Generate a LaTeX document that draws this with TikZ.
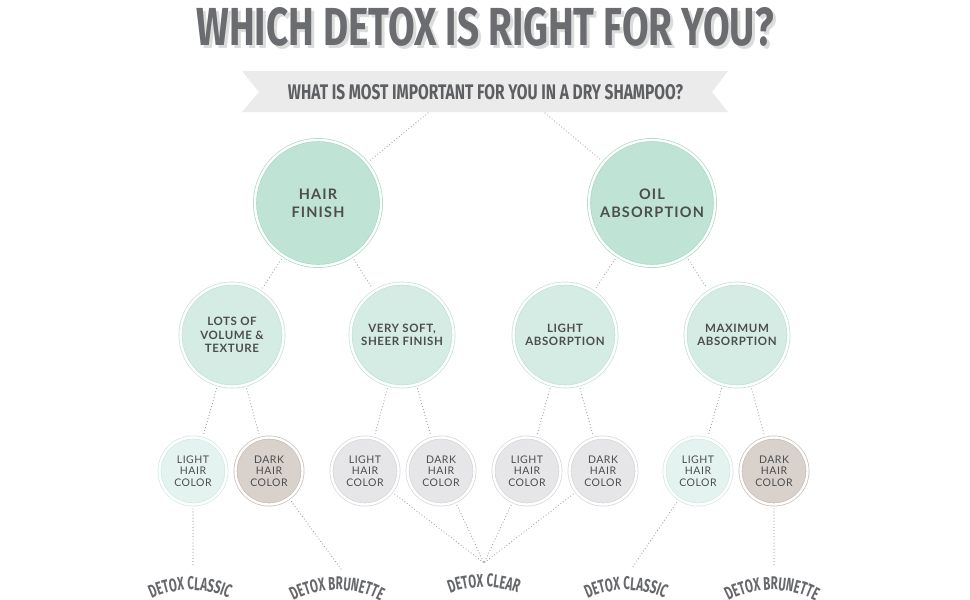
\documentclass[tikz,border=0pt]{standalone}
\usepackage{fontspec}
\usepackage{graphicx}
\setmainfont{Lato}
\newfontfamily\condfont{Fira Sans}
\newfontfamily\labfont[FakeStretch=0.62]{Fira Sans}
\newfontfamily\circfont[LetterSpace=8]{Lato}
\newfontfamily\circfontb[LetterSpace=5]{Lato}
\newfontfamily\circfontc[LetterSpace=5]{Lato}
\usetikzlibrary{decorations.text}
\definecolor{titlecol}{HTML}{6B6C6F}
\definecolor{shadowcol}{HTML}{DCDCDC}
\definecolor{bannercol}{HTML}{EBEBEB}
\definecolor{bannertxt}{HTML}{5E5F62}
\definecolor{mintA}{HTML}{BFE3D5}
\definecolor{mintAline}{HTML}{A9D9C7}
\definecolor{mintB}{HTML}{D5ECE5}
\definecolor{mintBline}{HTML}{C0E2D7}
\definecolor{mintC}{HTML}{E4F3EF}
\definecolor{mintCline}{HTML}{D0EAE2}
\definecolor{beige}{HTML}{D9D1CC}
\definecolor{beigeline}{HTML}{C8BDB5}
\definecolor{grayc}{HTML}{E6E6E8}
\definecolor{graycline}{HTML}{D7D7D9}
\definecolor{txtcol}{HTML}{4D4D4F}
\definecolor{dotcol}{HTML}{A2A2A4}
\definecolor{labcol}{HTML}{67686B}
\tikzset{
  ring/.style={circle, inner sep=0pt, align=center, text=txtcol, line width=0.7pt, double=white, double distance=2.4pt},
  lvlone/.style={ring, minimum size=126, fill=mintA, draw=mintAline, font=\circfont\bfseries\fontsize{14.5}{18}\selectfont},
  lvltwo/.style={ring, minimum size=103, fill=mintB, draw=mintBline, font=\circfontb\bfseries\fontsize{11.5}{13.5}\selectfont},
  lvlthree/.style={ring, minimum size=67, font=\circfontc\fontsize{10.5}{11.6}\selectfont},
  lightc/.style={lvlthree, fill=mintC, draw=mintCline},
  darkc/.style={lvlthree, fill=beige, draw=beigeline},
  grayn/.style={lvlthree, fill=grayc, draw=graycline},
  conn/.style={draw=dotcol, line width=1.2pt, line cap=round, dash pattern=on 0pt off 3.1pt, shorten <=4pt, shorten >=4pt},
  arclabel/.style={decorate, decoration={text along path, text align=center, text={|\labfont\bfseries\fontsize{18.5}{18.5}\selectfont\color{labcol}|#1}}}
}
\begin{document}
\begin{tikzpicture}[x=1pt, y=-1pt]
\useasboundingbox (0,0) rectangle (970,600);
\fill[white] (0,0) rectangle (970,600);

% title
\node[inner sep=0pt, text=shadowcol] (titleshadow) at (488,30) {\resizebox{577pt}{38pt}{\condfont\bfseries WHICH DETOX IS RIGHT FOR YOU?}};
\node[inner sep=0pt, text=titlecol] (title) at (485,27) {\resizebox{577pt}{38pt}{\condfont\bfseries WHICH DETOX IS RIGHT FOR YOU?}};

% banner
\fill[bannercol] (242,71) -- (728,71) -- (712,92) -- (728,112) -- (242,112) -- (259,92) -- cycle;
\node[inner sep=0pt, text=bannertxt] (question) at (485.5,92) {\resizebox{395pt}{15pt}{\condfont\bfseries WHAT IS MOST IMPORTANT FOR YOU IN A DRY SHAMPOO?}};
\coordinate (b1) at (428,113);
\coordinate (b2) at (545,113);

% level 1
\node[lvlone] (hf) at (318,203) {HAIR\\FINISH};
\node[lvlone] (oa) at (652,203) {OIL\\ABSORPTION};

% level 2
\node[lvltwo] (lv) at (232,335) {LOTS OF\\VOLUME \&\\TEXTURE};
\node[lvltwo] (vs) at (402,335) {VERY SOFT,\\SHEER FINISH};
\node[lvltwo] (la) at (565,335) {LIGHT\\ABSORPTION};
\node[lvltwo] (ma) at (737,335) {MAXIMUM\\ABSORPTION};

% level 3
\node[lightc] (s1) at (193,471) {LIGHT\\HAIR\\COLOR};
\node[darkc]  (s2) at (269,471) {DARK\\HAIR\\COLOR};
\node[grayn]  (s3) at (365,471) {LIGHT\\HAIR\\COLOR};
\node[grayn]  (s4) at (441,471) {DARK\\HAIR\\COLOR};
\node[grayn]  (s5) at (527,471) {LIGHT\\HAIR\\COLOR};
\node[grayn]  (s6) at (603,471) {DARK\\HAIR\\COLOR};
\node[lightc] (s7) at (698,471) {LIGHT\\HAIR\\COLOR};
\node[darkc]  (s8) at (774,471) {DARK\\HAIR\\COLOR};

% end points
\coordinate (c1) at (193,566);
\coordinate (c2) at (341,569);
\coordinate (c3) at (484,563);
\coordinate (c4) at (632,568);
\coordinate (c5) at (774,566);

% connectors
\draw[conn, shorten <=0pt] (b1) -- (hf);
\draw[conn, shorten <=0pt] (b2) -- (oa);
\draw[conn] (hf) -- (lv);
\draw[conn] (hf) -- (vs);
\draw[conn] (oa) -- (la);
\draw[conn] (oa) -- (ma);
\draw[conn] (lv) -- (s1);
\draw[conn] (lv) -- (s2);
\draw[conn] (vs) -- (s3);
\draw[conn] (vs) -- (s4);
\draw[conn] (la) -- (s5);
\draw[conn] (la) -- (s6);
\draw[conn] (ma) -- (s7);
\draw[conn] (ma) -- (s8);
\draw[conn, shorten >=0pt] (s1) -- (c1);
\draw[conn, shorten >=0pt] (s2) -- (c2);
\draw[conn, shorten >=0pt] (s3) -- (c3);
\draw[conn, shorten >=0pt] (s4) -- (c3);
\draw[conn, shorten >=0pt] (s5) -- (c3);
\draw[conn, shorten >=0pt] (s6) -- (c3);
\draw[conn, shorten >=0pt] (s7) -- (c4);
\draw[conn, shorten >=0pt] (s8) -- (c5);

% arched labels
\path[arclabel={DETOX CLASSIC}] (190,682) ++(-125:92) arc[start angle=-125, end angle=-55, radius=92];
\path[arclabel={DETOX BRUNETTE}] (337,682) ++(-125:92) arc[start angle=-125, end angle=-55, radius=92];
\path[arclabel={DETOX CLEAR}] (484,682) ++(-125:95) arc[start angle=-125, end angle=-55, radius=95];
\path[arclabel={DETOX CLASSIC}] (626,682) ++(-125:92) arc[start angle=-125, end angle=-55, radius=92];
\path[arclabel={DETOX BRUNETTE}] (772,682) ++(-125:92) arc[start angle=-125, end angle=-55, radius=92];
\end{tikzpicture}
\end{document}
